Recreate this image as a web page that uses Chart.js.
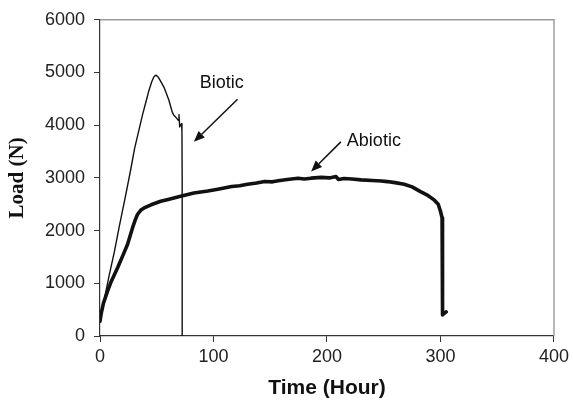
<!DOCTYPE html>
<html>
<head>
<meta charset="utf-8">
<script src="https://cdn.jsdelivr.net/npm/chart.js@4/dist/chart.umd.min.js"></script>
<style>
  html, body { margin: 0; padding: 0; background: #ffffff; }
  #wrap { width: 573px; height: 403px; }
</style>
</head>
<body>
<div id="wrap"><canvas id="c" width="573" height="403"></canvas></div>
<script>
// ---- Data ----
const bioticTime = [0, 0.5, 4, 8, 12.7, 17, 22.9, 27, 30.5, 34.6, 37.5, 40.4, 43, 45.5, 47.5, 49.2, 51, 53, 56.4, 58.5, 60.8, 62.3, 63.7, 65, 66.7, 68, 69, 69.6, 70.2, 71, 71.9, 72.2, 72.4, 72.4];
const bioticLoad = [300, 340, 720, 1140, 1600, 2080, 2700, 3150, 3560, 3935, 4200, 4436, 4650, 4820, 4920, 4950, 4920, 4850, 4718, 4600, 4468, 4350, 4248, 4190, 4154, 4120, 4092, 4199, 3966, 4000, 4028, 3900, 3000, 0];

const abioticTime = [0, 1, 3, 6.8, 10, 15.6, 20, 24.3, 28.7, 31, 33, 36, 38.9, 45, 53.5, 60, 71, 82.7, 95, 105, 116, 123, 130, 138, 145, 152, 157, 165, 174.5, 180, 186, 195, 202, 208, 210, 215, 222, 230, 240, 248, 253, 260, 268, 275, 282, 288, 294, 298, 300, 301.4, 301.6, 301.8, 302, 305];
const abioticLoad = [280, 420, 620, 860, 1040, 1300, 1520, 1742, 2055, 2200, 2306, 2390, 2430, 2490, 2556, 2590, 2650, 2712, 2750, 2790, 2838, 2850, 2880, 2905, 2932, 2925, 2945, 2970, 2995, 2980, 2995, 3010, 3000, 3026, 2970, 2990, 2980, 2963, 2950, 2940, 2930, 2910, 2880, 2830, 2744, 2680, 2588, 2500, 2368, 2243, 1500, 426, 400, 456];

const xMin = 0, xMax = 400, xStep = 100;
const yMin = 0, yMax = 6000, yStep = 1000;

const xTitle = 'Time (Hour)';
const yTitle = 'Load (N)';

// Annotations in data coordinates: label position and arrow (from -> to)
const annotations = [
  { text: 'Biotic',  tx: 107.2, ty: 4793, align: 'center', fromX: 121.2, fromY: 4492, toX: 82.7, toY: 3684 },
  { text: 'Abiotic', tx: 217.5, ty: 3703, align: 'left',   fromX: 212.2, fromY: 3684, toX: 186.0, toY: 3120 }
];

const toPoints = (xs, ys) => xs.map((x, i) => ({ x: x, y: ys[i] }));

const framePlugin = {
  id: 'frame',
  beforeDatasetsDraw(chart) {
    const { ctx, chartArea: a } = chart;
    ctx.save();
    ctx.strokeStyle = '#9a9a9a';
    ctx.lineWidth = 1.4;
    ctx.beginPath();
    ctx.moveTo(a.left, a.top);
    ctx.lineTo(a.right, a.top);
    ctx.lineTo(a.right, a.bottom);
    ctx.stroke();
    ctx.restore();
  },
  afterDatasetsDraw(chart) {
    const { ctx, scales } = chart;
    const xs = scales.x, ys = scales.y;
    ctx.save();
    ctx.fillStyle = '#111';
    ctx.strokeStyle = '#111';
    ctx.font = '18px "Liberation Sans", Arial, sans-serif';
    ctx.textBaseline = 'middle';
    annotations.forEach(an => {
      ctx.textAlign = an.align;
      ctx.fillText(an.text, xs.getPixelForValue(an.tx), ys.getPixelForValue(an.ty));
      const x1 = xs.getPixelForValue(an.fromX), y1 = ys.getPixelForValue(an.fromY);
      const x2 = xs.getPixelForValue(an.toX), y2 = ys.getPixelForValue(an.toY);
      const ang = Math.atan2(y2 - y1, x2 - x1);
      const headLen = 11, headW = 4.5;
      const bx = x2 - headLen * Math.cos(ang), by = y2 - headLen * Math.sin(ang);
      ctx.lineWidth = 1.5;
      ctx.beginPath();
      ctx.moveTo(x1, y1);
      ctx.lineTo(bx, by);
      ctx.stroke();
      ctx.beginPath();
      ctx.moveTo(x2, y2);
      ctx.lineTo(bx + headW * Math.sin(ang), by - headW * Math.cos(ang));
      ctx.lineTo(bx - headW * Math.sin(ang), by + headW * Math.cos(ang));
      ctx.closePath();
      ctx.fill();
    });
    ctx.restore();
  }
};

const tickFont = { family: '"Liberation Sans", Arial, sans-serif', size: 18 };
const plainNumber = v => String(v);

new Chart(document.getElementById('c'), {
  type: 'line',
  data: {
    datasets: [
      {
        label: 'Biotic',
        data: toPoints(bioticTime, bioticLoad),
        borderColor: '#111',
        borderWidth: 1.4,
        pointRadius: 0,
        tension: 0,
        borderJoinStyle: 'round',
        fill: false
      },
      {
        label: 'Abiotic',
        data: toPoints(abioticTime, abioticLoad),
        borderColor: '#111',
        borderWidth: 3.6,
        pointRadius: 0,
        tension: 0,
        borderJoinStyle: 'round',
        borderCapStyle: 'round',
        fill: false
      }
    ]
  },
  options: {
    responsive: false,
    animation: false,
    devicePixelRatio: 1,
    layout: { padding: { top: 17, right: 16, left: 0, bottom: 0 } },
    plugins: {
      legend: { display: false },
      tooltip: { enabled: false }
    },
    scales: {
      x: {
        type: 'linear',
        min: xMin, max: xMax,
        ticks: { stepSize: xStep, color: '#222', font: tickFont, padding: 4, maxRotation: 0, callback: plainNumber },
        grid: { drawOnChartArea: false, drawTicks: true, tickLength: 6, color: '#333', lineWidth: 1 },
        border: { display: true, color: '#333', width: 1.2 },
        title: {
          display: true, text: xTitle, color: '#111',
          font: { family: '"Liberation Sans", Arial, sans-serif', size: 21, weight: 'bold', lineHeight: 1.2 },
          padding: { top: 0, bottom: 2.4 }
        },
        afterFit(scale) { scale.height = 67; }
      },
      y: {
        type: 'linear',
        min: yMin, max: yMax,
        ticks: { stepSize: yStep, color: '#222', font: tickFont, padding: 9, callback: plainNumber },
        grid: { drawOnChartArea: false, drawTicks: true, tickLength: 6, color: '#333', lineWidth: 1 },
        border: { display: true, color: '#333', width: 1.2 },
        title: {
          display: true, text: yTitle, color: '#111',
          font: { family: '"Liberation Serif", "Times New Roman", serif', size: 21, weight: 'bold', lineHeight: 1.2 },
          padding: { top: 5.4, bottom: 0 }
        },
        afterFit(scale) { scale.width = 100; }
      }
    }
  },
  plugins: [framePlugin]
});
</script>
</body>
</html>
